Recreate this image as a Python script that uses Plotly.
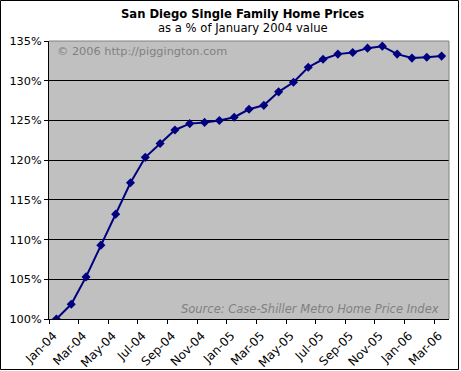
import plotly.graph_objects as go

months = ["Jan-04", "Feb-04", "Mar-04", "Apr-04", "May-04", "Jun-04", "Jul-04", "Aug-04",
          "Sep-04", "Oct-04", "Nov-04", "Dec-04", "Jan-05", "Feb-05", "Mar-05", "Apr-05",
          "May-05", "Jun-05", "Jul-05", "Aug-05", "Sep-05", "Oct-05", "Nov-05", "Dec-05",
          "Jan-06", "Feb-06", "Mar-06"]
pct_of_jan04 = [100.0, 101.85, 105.3, 109.3, 113.2, 117.15, 120.35, 122.1,
                123.8, 124.6, 124.75, 125.0, 125.4, 126.4, 126.9, 128.6,
                129.8, 131.7, 132.7, 133.35, 133.55, 134.1, 134.35, 133.35,
                132.85, 132.95, 133.1]
y_ticks = [100, 105, 110, 115, 120, 125, 130, 135]

FONT = "DejaVu Sans, Verdana, sans-serif"
W, H = 461, 371
L, R, T, B = 49, 12, 41, 52
PW, PH = W - L - R, H - T - B


def px(x):
    return (x - L) / PW


def py(y):
    return (H - B - y) / PH


xs = list(range(len(months)))

fig = go.Figure()
fig.add_trace(go.Scatter(
    x=xs, y=pct_of_jan04, mode="lines+markers",
    line=dict(color="#000080", width=2),
    marker=dict(symbol="diamond", size=7, color="#000080"),
    hoverinfo="skip", showlegend=False,
))

fig.update_layout(
    width=W, height=H,
    margin=dict(l=L, r=R, t=T, b=B, pad=0, autoexpand=False),
    paper_bgcolor="white", plot_bgcolor="#C0C0C0",
    font=dict(family=FONT, size=11, color="black"),
    xaxis=dict(
        range=[-0.5, len(months) - 0.5], automargin=False,
        tickvals=xs[::2], ticktext=months[::2],
        tickangle=-45, ticks="", showgrid=False, zeroline=False,
        showline=True, linecolor="black", linewidth=1,
        tickfont=dict(size=12, family=FONT),
        ticklabelstandoff=4, ticklabelshift=-3,
        minor=dict(tickvals=[v - 0.5 for v in xs[::2]], ticks="outside",
                   ticklen=4, tickcolor="black", tickwidth=1, showgrid=False),
    ),
    yaxis=dict(
        range=[100, 135], tickvals=y_ticks, automargin=False,
        ticktext=[f"{v}%" for v in y_ticks],
        ticks="outside", ticklen=4, tickcolor="black",
        showgrid=True, gridcolor="black", gridwidth=1, zeroline=False,
        showline=True, linecolor="black", linewidth=1,
        tickfont=dict(size=11.3, family=FONT),
    ),
    shapes=[
        dict(type="line", xref="paper", yref="paper", x0=0, x1=1, y0=1, y1=1,
             line=dict(color="#808080", width=1), layer="above"),
        dict(type="line", xref="paper", yref="paper", x0=1, x1=1, y0=0, y1=1,
             line=dict(color="#808080", width=1), layer="above"),
        dict(type="rect", xref="paper", yref="paper",
             x0=px(0.5), x1=px(458.5), y0=py(369.5), y1=py(0.5),
             line=dict(color="black", width=1), layer="above"),
    ],
    annotations=[
        dict(text="<b>San Diego Single Family Home Prices</b>", xref="paper", yref="paper",
             x=px(242.5), y=py(14), xanchor="center", yanchor="middle", showarrow=False,
             font=dict(size=11.6, family=FONT, color="black")),
        dict(text="as a % of January 2004 value", xref="paper", yref="paper",
             x=px(243), y=py(28), xanchor="center", yanchor="middle", showarrow=False,
             font=dict(size=11.6, family=FONT, color="black")),
        dict(text="© 2006 http://piggington.com", xref="paper", yref="paper",
             x=px(55), y=py(51), xanchor="left", yanchor="middle", showarrow=False,
             font=dict(size=11.3, family=FONT, color="#808080")),
        dict(text="<i>Source: Case-Shiller Metro Home Price Index</i>", xref="paper", yref="paper",
             x=px(441), y=py(309), xanchor="right", yanchor="middle", showarrow=False,
             font=dict(size=11.5, family=FONT, color="#808080")),
    ],
)

fig.write_html(
    "out.html",
    config={"displayModeBar": False, "staticPlot": True},
    post_script="document.body.style.margin='0';document.body.style.overflow='hidden';",
)
